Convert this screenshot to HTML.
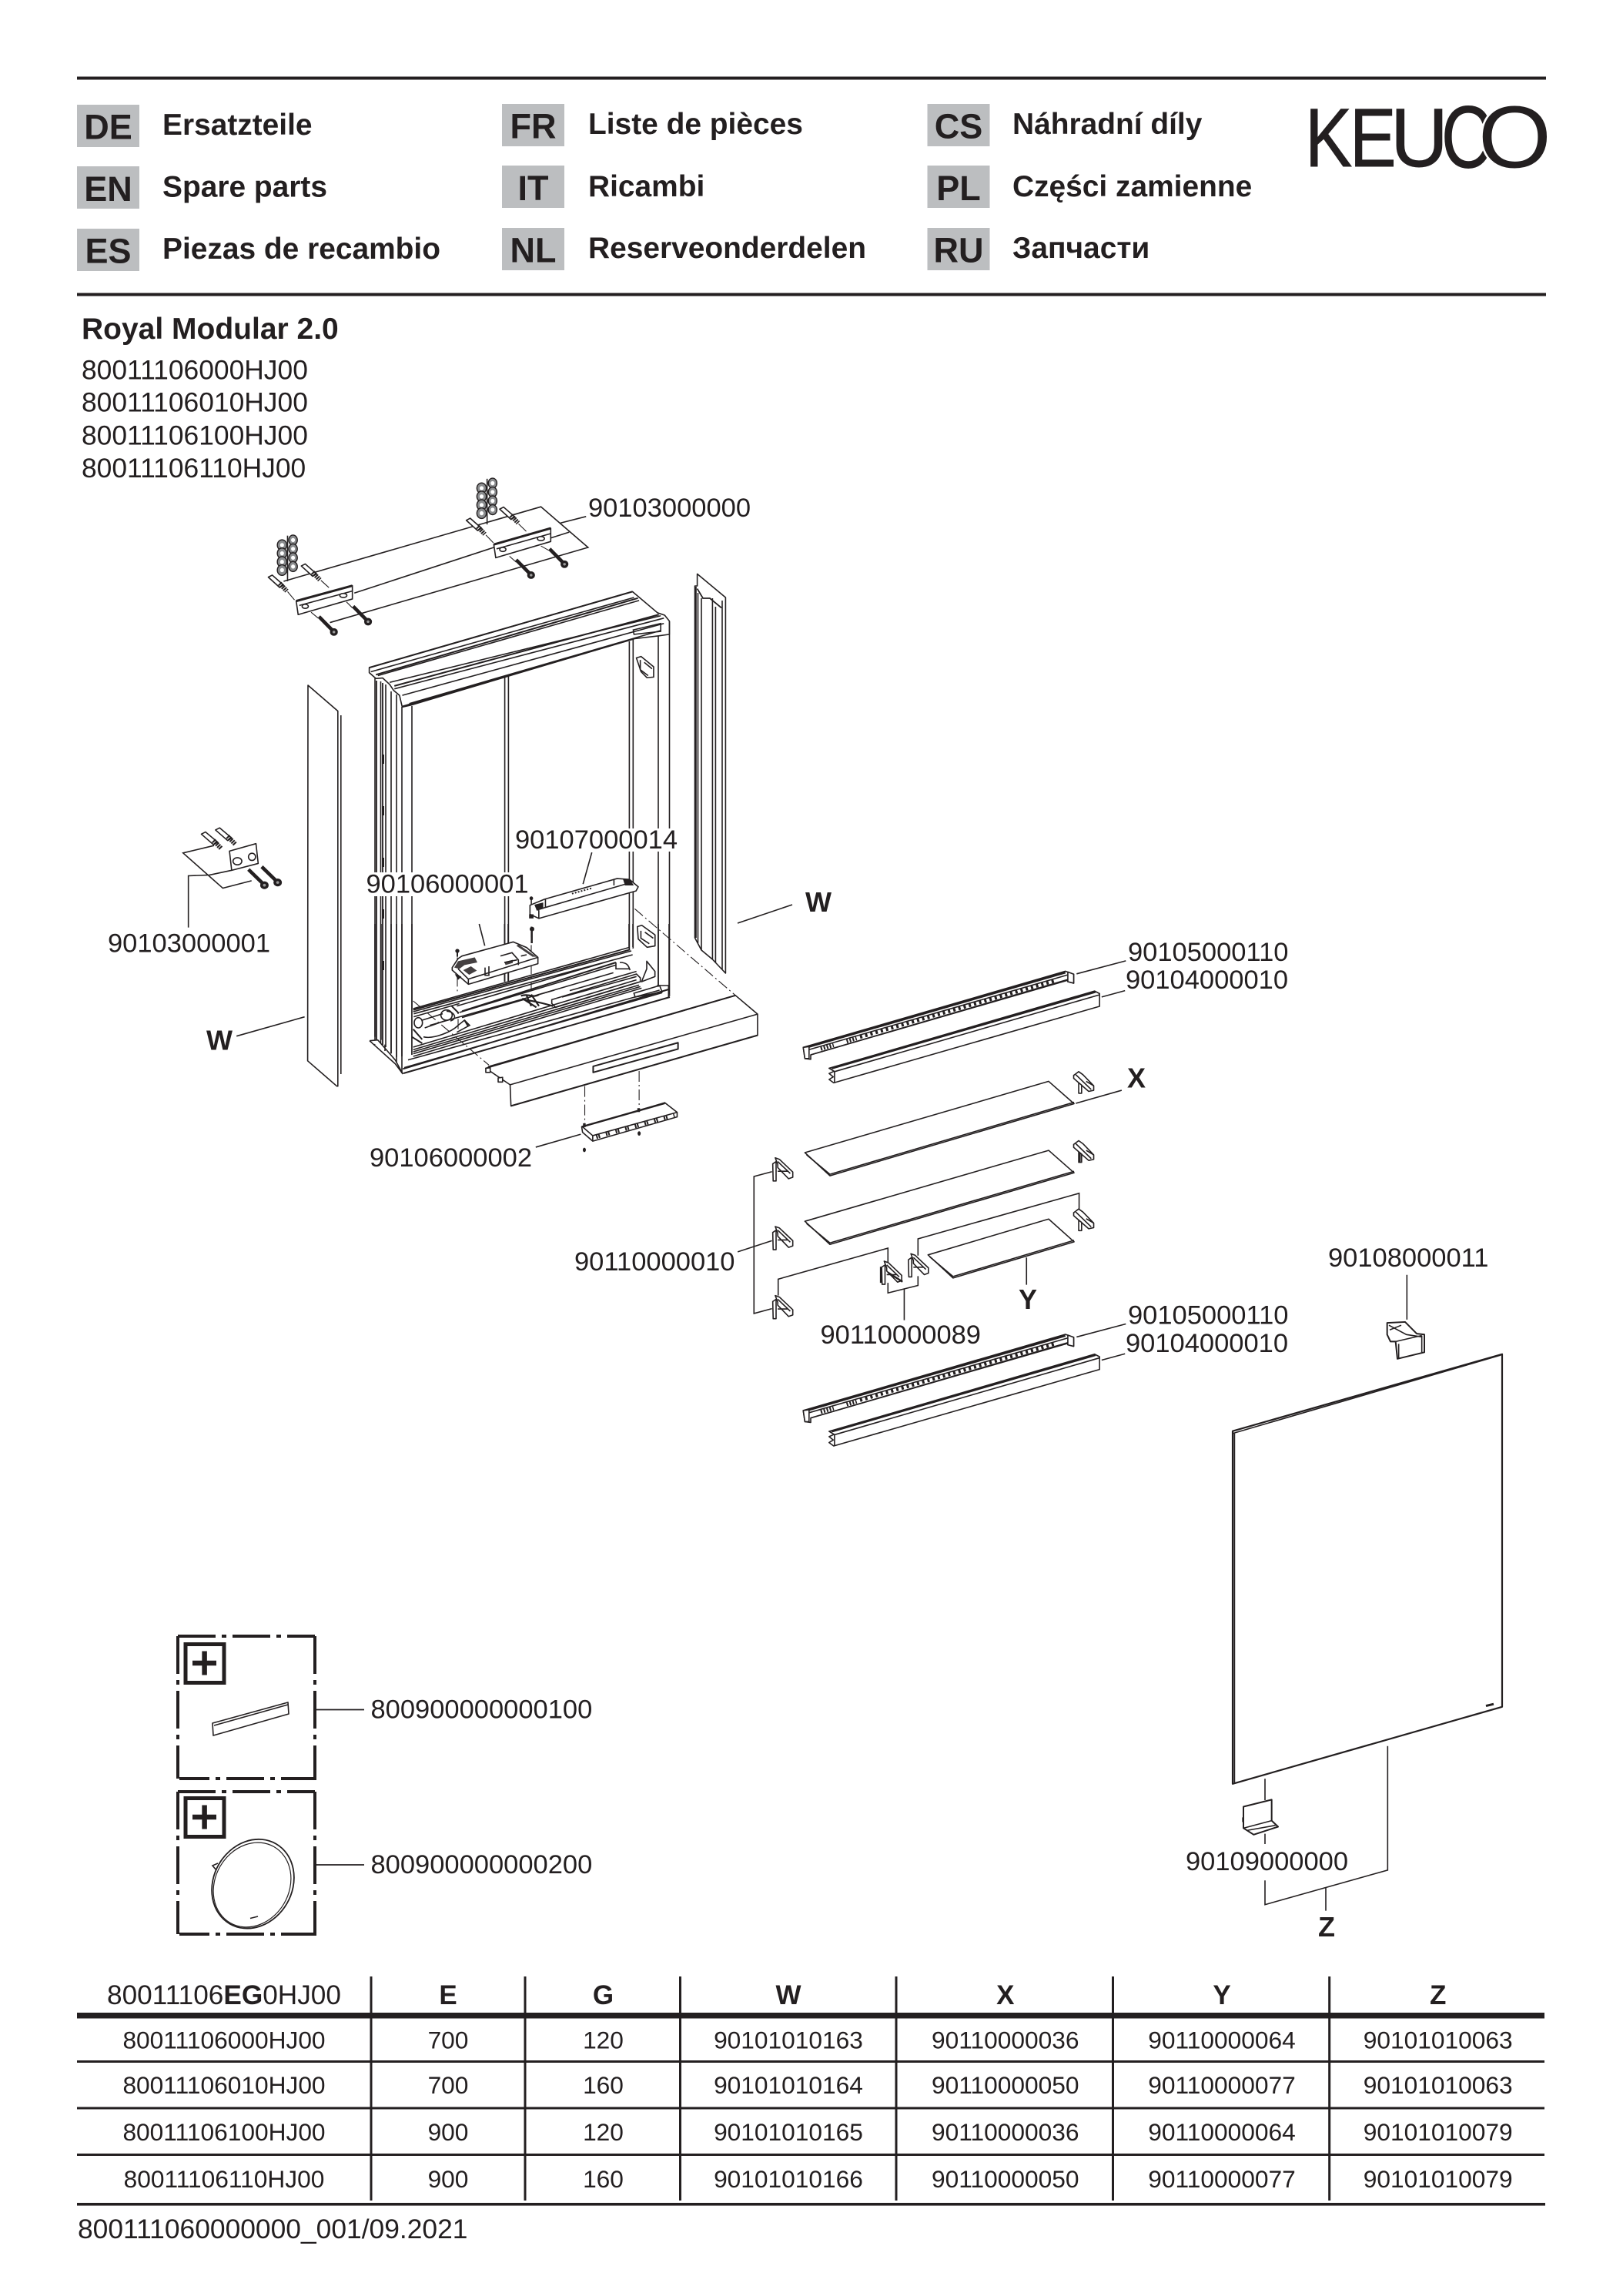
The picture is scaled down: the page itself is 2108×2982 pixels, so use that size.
<!DOCTYPE html>
<html><head><meta charset="utf-8"><title>Royal Modular 2.0</title>
<style>
html,body{margin:0;padding:0;background:#fff}
svg{display:block;position:absolute;left:0;top:0}
text{font-family:"Liberation Sans",sans-serif;fill:#231f20}
.b{font-weight:bold}
.h{font-size:38.9px;font-weight:bold}
.c{font-size:45px;font-weight:bold;text-anchor:middle}
.l{font-size:34.5px}
.p{font-size:35.4px}
.t{font-size:31.7px;text-anchor:middle}
.th{font-size:35px;font-weight:bold;text-anchor:middle}
.m{font-size:36px;font-weight:bold}
.lg{stroke:#231f20;stroke-width:.9px}
.lo{stroke:#fff;stroke-width:5px;paint-order:stroke}
path,line,polygon,rect,ellipse,circle,polyline{vector-effect:non-scaling-stroke}
.ln{fill:none;stroke:#231f20;stroke-width:1.6}
.w{fill:#fff;stroke:#231f20;stroke-width:1.6;stroke-linejoin:round}
.k{fill:#231f20;stroke:none}
.th2{fill:none;stroke:#231f20;stroke-width:3}
.th1{fill:none;stroke:#231f20;stroke-width:1}
.dd{fill:none;stroke:#231f20;stroke-width:1.1;stroke-dasharray:14 4 2 4}
.bx{fill:none;stroke:#231f20;stroke-width:4;stroke-dasharray:49 8 6 8}
</style></head><body>
<svg width="2108" height="2982" viewBox="0 0 2108 2982" xmlns="http://www.w3.org/2000/svg">
<defs>
<g id="bR">
  <path class="w" d="M0,10 L12,0 L22,8 L48,38 V50 L36,53 L0,18Z"/>
  <path class="w" d="M12,30 L19,36 V58 H12Z"/>
  <path class="ln" d="M5,8 L42,48 M30,26 L48,38"/>
</g>
<g id="bL">
  <path class="w" d="M8,0 L18,4 L50,38 V52 L40,56 L14,26 V18Z"/>
  <path class="w" d="M2,16 L10,10 V62 H3Z"/>
  <path class="ln" d="M14,10 L44,42 M14,36 L38,36"/>
</g>
<g id="rail">
  <path class="w" d="M172,372 L800,168 L820,176 V200 L806,196 V190 L190,392 V404 L176,402Z"/>
  <path class="th2" d="M186,370 L800,171"/>
  <path class="ln" d="M186,378 L805,178 M190,392 L806,192"/>
  <path fill="none" stroke="#231f20" stroke-width="5" stroke-dasharray="3 4" d="M308,344 L778,192"/>
  <path fill="none" stroke="#231f20" stroke-width="5" stroke-dasharray="2 2" d="M214,376 L245,366 M276,356 L300,348"/>
  <path class="w" d="M172,372 L186,370 V402 L176,402Z"/>
  <path class="w" d="M806,170 L820,176 V200 L806,196Z"/>
</g>
<g id="prof">
  <path class="w" d="M234,428 L870,221 L882,228 V262 L245,467 L234,458 L244,451 L234,442 L246,436Z"/>
  <path class="th2" d="M240,428 L872,223"/>
  <path class="ln" d="M247,437 L882,231 M247,437 V467"/>
</g>
<g id="anchor">
  <path class="w" d="M-7,3 L3,-4 L32,30 L22,38Z"/>
  <path fill="none" stroke="#231f20" stroke-width="6" stroke-dasharray="2 1" d="M22,24 L40,50"/>
</g>
<g id="screw">
  <path fill="none" stroke="#231f20" stroke-width="4.6" d="M0,0 L34,46"/>
  <ellipse cx="38" cy="52" rx="10" ry="13" fill="#231f20"/>
  <ellipse cx="38" cy="52" rx="3.5" ry="4.5" fill="#999"/>
</g>
<g id="wash">
  <path class="ln" d="M340,250 V405"/>
  <g fill="#8a8c8e" stroke="#231f20" stroke-width="1.4">
    <ellipse cx="326" cy="282" rx="12" ry="18"/><ellipse cx="326" cy="310" rx="12" ry="18"/><ellipse cx="326" cy="339" rx="12" ry="18"/><ellipse cx="326" cy="367" rx="12" ry="18"/>
    <ellipse cx="354" cy="265" rx="11" ry="17"/><ellipse cx="354" cy="295" rx="11" ry="17"/><ellipse cx="354" cy="325" rx="11" ry="17"/><ellipse cx="354" cy="355" rx="11" ry="17"/>
  </g>
  <g fill="#fff" stroke="none">
    <ellipse cx="326" cy="282" rx="5" ry="7"/><ellipse cx="326" cy="310" rx="5" ry="7"/><ellipse cx="326" cy="339" rx="5" ry="7"/><ellipse cx="326" cy="367" rx="5" ry="7"/>
    <ellipse cx="354" cy="265" rx="5" ry="7"/><ellipse cx="354" cy="295" rx="5" ry="7"/><ellipse cx="354" cy="325" rx="5" ry="7"/><ellipse cx="354" cy="355" rx="5" ry="7"/>
  </g>
</g>
</defs>

<!-- header -->
<rect x="100" y="99.5" width="1908" height="4" class="k"/>
<rect x="100" y="380.5" width="1908" height="4" class="k"/>
<g fill="#bcbec0">
<rect x="100" y="136" width="81" height="55"/><rect x="100" y="216" width="81" height="55"/><rect x="100" y="297" width="81" height="55"/>
<rect x="652" y="135" width="81" height="55"/><rect x="652" y="215" width="81" height="55"/><rect x="652" y="296" width="81" height="55"/>
<rect x="1204.5" y="135" width="81" height="55"/><rect x="1204.5" y="215" width="81" height="55"/><rect x="1204.5" y="296" width="81" height="55"/>
</g>
<text class="c" x="140.5" y="180.5">DE</text><text class="c" x="140.5" y="261">EN</text><text class="c" x="140.5" y="341.5">ES</text>
<text class="c" x="692.5" y="179.5">FR</text><text class="c" x="692.5" y="260">IT</text><text class="c" x="692.5" y="340.5">NL</text>
<text class="c" x="1245" y="179.5">CS</text><text class="c" x="1245" y="260">PL</text><text class="c" x="1245" y="340.5">RU</text>
<text class="h" x="211" y="175">Ersatzteile</text><text class="h" x="211" y="255.5">Spare parts</text><text class="h" x="211" y="336">Piezas de recambio</text>
<text class="h" x="764" y="174">Liste de pièces</text><text class="h" x="764" y="255">Ricambi</text><text class="h" x="764" y="335">Reserveonderdelen</text>
<text class="h" x="1315" y="174">Náhradní díly</text><text class="h" x="1315" y="255">Części zamienne</text><text class="h" x="1315" y="335">Запчасти</text>

<!-- logo -->
<text class="lg" style="font-size:108px" transform="translate(1695,216) scale(.85,1)">K</text>
<text class="lg" style="font-size:108px" transform="translate(1753,216) scale(.84,1)">E</text>
<text class="lg" style="font-size:108px" transform="translate(1806,216) scale(.96,1)">U</text>
<text class="lg" style="font-size:114px" transform="translate(1872,217.5) scale(.8,1)">C</text>
<text class="lo" style="font-size:114px" transform="translate(1920,217.5) scale(1.07,1)">O</text>

<text class="b" style="font-size:39px" x="106" y="440">Royal Modular 2.0</text>
<text class="p" x="106" y="492.5">80011106000HJ00</text>
<text class="p" x="106" y="534.5">80011106010HJ00</text>
<text class="p" x="106" y="577.5">80011106100HJ00</text>
<text class="p" x="106" y="620">80011106110HJ00</text>

<!-- continuous verticals and side panels -->
<g>
  <path class="ln" d="M487,881 V1357 M494.5,885 V1357 M501,889 V1360 M508,898 V1368 M515,902 V1379 M522,918 V1394 M535,917 V1378"/>
  <path class="ln" d="M655.6,879 V1275 M660.4,877 V1275"/>
  <path class="ln" d="M817.4,833 V1236 M822.3,830 V1236 M855,826 V1282 M869.5,807 V1294"/>
  <path class="ln" d="M489,884 V1357 M497,887 V1357" style="stroke-width:1.8"/>
  <path fill="none" stroke="#231f20" stroke-width="3" stroke-dasharray="12 55" d="M497.5,980 V1300"/>
  <path class="w" d="M400,890 L438.8,923.5 V1410.7 H437.5 L399.6,1377.8Z"/>
  <path class="ln" d="M442.8,929 V1395"/>
  <path class="w" d="M905.6,745.4 L942.4,776 V1264 L925.4,1246 L911,1234 L902.5,1218 V761 L905.6,761Z"/>
  <path class="ln" d="M906.5,770 V1225 M911,777 V1234 M925.4,777 V1246 M929.4,788 V1250 M938,780 V1259"/>
  <path class="ln" d="M903.8,762 V1218" style="stroke-width:2"/>
  <path class="ln" d="M905.6,764.6 L913,777 H922 L937,789.4" style="stroke-width:1.8"/>
  <path class="ln" d="M958,1199 L1029,1175"/>
</g>

<!-- top part of the exploded view (zoom 2 frame) -->
<g transform="translate(200,600) scale(.5102,.3827)">
  <path class="ln" d="M330,405 L985,152 L1105,290 L448,545"/>
  <path class="ln" d="M510,445 L865,290 M1010,258 L1057,238 M1035,207 L1100,185"/>
  <use href="#wash"/><use href="#wash" transform="translate(508,-193)"/>
  <path class="dd" d="M340,440 L362,475 M425,402 L450,432 M400,510 L418,530 M490,475 L505,495 M845,248 L868,280 M928,210 L955,245 M905,320 L922,340 M985,285 L1005,300"/>
  <use href="#anchor" transform="translate(298,388)"/><use href="#anchor" transform="translate(382,350)"/>
  <use href="#anchor" transform="translate(802,195)"/><use href="#anchor" transform="translate(887,157)"/>
  <path class="w" d="M362,472 L505,420 V465 L367,518Z"/>
  <path class="w" d="M865,280 L1010,225 V270 L870,325Z"/>
  <path class="th2" d="M362,472 L505,420 M865,280 L1010,225"/>
  <path class="ln" d="M370,487 L505,438 M872,295 L1010,243"/>
  <ellipse class="w" cx="385" cy="490" rx="8" ry="7"/><ellipse class="w" cx="482" cy="453" rx="9" ry="7"/>
  <ellipse class="w" cx="888" cy="297" rx="8" ry="7"/><ellipse class="w" cx="985" cy="260" rx="9" ry="7"/>
  <use href="#screw" transform="translate(420,525)"/><use href="#screw" transform="translate(507,490)"/>
  <use href="#screw" transform="translate(922,332)"/><use href="#screw" transform="translate(1007,295)"/>

  <!-- cabinet top -->
  <path class="w" d="M548,698 L1218,440 L1282,512 L1300,520 L1312,540 L1312,585 L1285,590 L1222,600 L655,825 L632,832 L625,792 L610,775 L600,755 L582,733 L565,735 L548,715Z"/>
  <path class="ln" d="M552,712 L1222,460 M570,725 L1235,470 M600,748 L1290,522 M612,770 L1298,530 M632,792 L1298,548 M650,820 L1290,572"/>
  <path class="th2" d="M548,698 L1218,440 M565,722 L1232,462 M632,830 L1222,600 M612,760 L1285,518" style="stroke-width:2"/>
  <path class="ln" d="M1220,570 L1290,548 V575 L1222,585Z"/>
  <path class="w" d="M1228,665 L1240,660 L1272,695 V730 L1255,732 L1240,712 Z"/>
  <path class="ln" d="M1238,672 L1238,705 L1258,725 M1248,680 L1268,702"/>
</g>

<!-- small bracket, hinge (zoom 3 frame) -->
<g transform="translate(100,1000) scale(.574,.3571)">
  <path class="ln" d="M310,275 L240,302 L330,430 L395,403 M350,365 L300,382 L252,385 V573"/>
  <use href="#anchor" transform="translate(288,230) scale(.95,1.1)"/><use href="#anchor" transform="translate(320,215) scale(.95,1.1)"/>
  <path class="w" d="M345,295 L405,268 L410,340 L350,365Z"/>
  <ellipse class="w" cx="363" cy="332" rx="10" ry="13"/><ellipse class="w" cx="396" cy="316" rx="8" ry="13"/>
  <use href="#screw" transform="translate(388,362) scale(.95,1.1)"/><use href="#screw" transform="translate(418,352) scale(.95,1.1)"/>
  <path class="ln" d="M361,968 L515,898"/>
  <path class="w" d="M1268,570 L1278,565 L1308,600 V640 L1290,645 L1270,615Z"/>
  <path class="ln" d="M1276,585 V612 L1295,632 M1285,590 L1304,612"/>
</g>

<!-- tray (zoom 10 frame) -->
<g transform="translate(480,1200) scale(.33333)">
  <path class="w" d="M0,455 L30,450 L95,525 L130,580 L1170,285 L1165,240 L1120,242 L1030,95 L165,330 V510 L100,520Z" style="stroke:none"/>
  <path class="ln" d="M21,0 V440 M45,0 V452 M84,0 V505 M105,0 V540 M126,0 V580 M165,0 V510"/>
  <path class="ln" d="M1011,0 V95 M1026,0 V90 M1125,0 V245 M1167,0 V282"/>
  <path class="ln" d="M526,0 V225 M540,0 V222"/>
  <path class="ln" d="M0,455 L32,452 L100,530 L130,585 M0,455 L100,545 L130,585 M60,470 V495"/>
  <path class="th2" d="M130,565 L1165,255 M132,582 L1170,285" style="stroke-width:2"/>
  <path class="ln" d="M170,330 L1010,92 M170,342 L1020,105 M172,350 L1025,120 M172,362 L350,310 M340,320 L950,140 M350,345 L960,160 M235,395 L720,258 M360,365 L600,295"/>
  <path class="th2" d="M170,335 L1015,100 M360,340 L960,150" style="stroke-width:2"/>
  <path class="ln" d="M170,480 L1040,218 M170,490 L1045,228 M170,498 L1050,238 M170,506 L1055,244 M170,516 L1060,250 M150,530 L1130,258 M135,560 L1140,268"/>
  <path class="ln" d="M710,295 L1040,195 L1055,210 V225 L725,325 L710,310Z M750,285 L1040,205 M660,275 L950,190 M780,260 L1040,185"/>
  <path class="ln" d="M960,150 V175 L1015,175 M975,150 C1010,150 1010,170 1015,180"/>
  <path class="th2" d="M590,280 C620,270 640,290 660,275 M595,290 L650,325 M610,275 L630,320 M630,275 L660,320 M600,295 C640,300 680,310 715,320" style="stroke-width:2.2"/>
  <ellipse class="w" cx="190" cy="385" rx="16" ry="20"/><ellipse class="ln" cx="300" cy="355" rx="22" ry="20"/>
  <path class="ln" d="M205,375 L285,350 M215,405 L300,375 M300,340 C330,340 345,370 315,378 M210,440 C250,450 320,420 345,395 L370,375 L390,395 L340,422"/>
  <path class="th2" d="M170,410 L205,450 M165,440 L205,465 M320,320 L345,345 V350 M370,375 L385,400" style="stroke-width:2"/>
  <path class="w" d="M1080,145 L1112,185 L1112,205 L1060,225 L1080,175Z"/>
  <path class="ln" d="M1120,240 L1165,240 V285 M1030,270 L1130,240 L1140,265 L1035,285Z"/>
  <path class="dd" d="M170,300 L465,550 M630,10 V260 M342,130 V270 M345,370 V410"/>
  <path class="ln" d="M427,0 L449,85"/>
  <path class="w" d="M322,170 L345,135 L360,125 L560,70 L612,92 L656,130 L656,155 L385,235 L322,180Z"/>
  <path class="ln" d="M345,175 L385,215 V235 M385,215 L656,130 M510,125 L555,112 L580,140 V160 M525,150 L575,140 M450,170 V200 H465 V165 M590,125 L612,120"/>
  <path class="k" d="M365,180 L395,165 L418,182 L388,198Z M525,148 L558,140 V152 L530,160Z M580,80 L650,128 L635,128 L572,85Z M345,145 L410,130 L420,150 L370,160 L350,175 L330,170Z" style="opacity:.85"/>
  <path class="k" d="M332,195 L358,205 L345,218Z"/>
  <circle cx="342" cy="105" r="8" fill="#231f20"/><path class="th2" d="M342,110 V128" style="stroke-width:2"/>
  <circle cx="633" cy="20" r="9" fill="#231f20"/><path class="th2" d="M632,28 V75" style="stroke-width:2.5"/>
</g>

<g transform="translate(100,1000) scale(.574,.3571)">
  <path class="ln" d="M1165,300 L1145,415"/>
  <path class="w" d="M1025,492 L1058,470 L1222,395 L1250,398 L1270,425 L1265,440 L1045,540 L1025,525Z"/>
  <path class="ln" d="M1060,470 V500 L1040,510 M1060,500 L1248,412 M1045,510 V540 M1215,400 V420"/>
  <path class="k" d="M1035,490 L1055,482 V505 L1040,510Z M1235,395 L1252,400 L1260,420 L1240,420Z"/>
  <path fill="none" stroke="#231f20" stroke-width="2" stroke-dasharray="2 2" d="M1120,450 L1165,430"/>
  <path class="k" d="M1023,525 L1033,525 L1033,540 L1023,540Z"/>
  <ellipse cx="1028" cy="467" rx="4" ry="7" fill="#231f20"/><path class="ln" d="M1028,472 V490"/>
  <path class="dd" d="M1262,505 L1490,820"/>
  <path class="w" d="M925,1085 L1490,820 L1540,888 V965 L982,1222 L980,1145Z"/>
  <path class="ln" d="M980,1145 L1540,888"/>
  <path class="th2" d="M930,1080 L1490,820 M982,1222 L1540,965" style="stroke-width:2"/>
  <path class="w" d="M1168,1078 L1360,992 V1015 L1168,1100Z" style="stroke-width:2"/>
  <path class="w" d="M925,1085 L935,1083 V1100 L925,1100Z M953,1120 L963,1118 V1135 L953,1135Z"/>
  <path class="dd" d="M1149,1150 V1290 M1272,1095 V1225"/>
  <path class="ln" d="M1038,1372 L1140,1325"/>
  <path class="w" d="M1142,1298 L1272,1238 L1300,1225 L1330,1210 L1358,1245 V1262 L1167,1350 L1144,1318Z"/>
  <path class="ln" d="M1144,1298 L1167,1330 V1350 M1167,1330 L1358,1245"/>
  <path class="th2" d="M1142,1298 L1330,1212" style="stroke-width:2.4"/>
  <path fill="none" stroke="#231f20" stroke-width="5" stroke-dasharray="2 1 2 8" d="M1175,1335 L1352,1256"/>
  <path class="k" d="M1268,1230 h6 v14 h-6z M1145,1285 h6 v14 h-6z"/>
  <ellipse cx="1272" cy="1322" rx="3.5" ry="8" fill="#231f20"/><ellipse cx="1148" cy="1382" rx="3.5" ry="8" fill="#231f20"/>
</g>

<!-- shelves, rails (zoom 4 frame) -->
<g transform="translate(950,1180) scale(.5421,.4847)">
  <use href="#rail"/><use href="#prof"/>
  <use href="#rail" y="973"/><use href="#prof" y="973"/>
  <path class="ln" d="M827,175 L945,140 M887,237 L943,220 M827,1148 L945,1113 M887,1210 L943,1193"/>
  <path class="w" d="M176,654 L760,463 L821,523 L236,716Z"/><path class="ln" d="M180,660 L236,712 L821,519"/>
  <path class="w" d="M176,838 L760,648 L821,708 L236,900Z"/><path class="ln" d="M180,844 L236,896 L821,704"/>
  <path class="w" d="M471,928 L760,832 L821,893 L531,990Z"/><path class="ln" d="M475,933 L531,986 L821,889"/>
  <path class="ln" d="M825,522 L935,487 M707,935 V1008"/>
  <use href="#bR" x="820" y="437"/><use href="#bR" x="820" y="622"/><use href="#bR" x="820" y="805"/>
  <path class="th2" d="M835,655 V680" style="stroke-width:2"/>
  <path class="ln" d="M97,705 L54,718 V1085 L97,1072 M15,920 L97,890"/>
  <path class="ln" d="M112,1037 V993 L375,910 V950 M375,1003 V1030 L447,1010 V985 M414,1020 V1103 M447,930 V885 L833,763 V807"/>
  <use href="#bL" x="97" y="668"/><use href="#bL" x="97" y="852"/><use href="#bL" x="97" y="1037"/>
  <use href="#bL" x="358" y="945" /><path class="th2" d="M358,960 V1003 M375,975 L410,1000" style="stroke-width:2.4"/>
  <use href="#bL" x="422" y="925"/>
</g>

<!-- mirror (zoom 5 frame) -->
<g transform="translate(1500,1600) scale(.33333,.6059)">
  <path class="w" d="M303,427 L1353,262 V1018 L303,1183Z" style="stroke-width:2.2"/>
  <path class="ln" d="M310,432 V1180" style="stroke-width:1.8"/>
  <path class="ln" d="M303,432 L1348,264" style="stroke-width:1.6"/>
  <path class="th2" d="M1290,1016 L1320,1012"/>
  <path class="ln" d="M982,92 V188 M429,1172 V1218 M429,1290 V1312 M429,1390 V1442 L907,1368 V1102 M666,1405 V1455"/>
  <path class="w" d="M905,195 L975,193 L1020,218 L1050,220 V258 L945,272 L938,235 L918,235 L905,220Z" style="stroke-width:2"/>
  <path class="ln" d="M912,200 L980,220 L1040,225 M938,235 L1040,222 M1040,222 V258 M950,240 V270 M915,210 L960,200"/>
  <path class="w" d="M345,1232 L455,1217 V1262 L480,1275 L385,1292 L345,1278Z" style="stroke-width:2"/>
  <path class="ln" d="M345,1278 L455,1262 M358,1283 L470,1272"/>
  <path class="k" d="M340,1255 h5 v10 h-5z"/>
</g>

<!-- accessory boxes -->
<g>
  <path class="bx" d="M231,2125 H409"/><path class="bx" d="M231,2125 V2310"/><path class="bx" d="M409,2125 V2310"/><path class="bx" stroke-dashoffset="10" d="M233,2310 H411"/>
  <path class="bx" d="M231,2327 H409"/><path class="bx" d="M231,2327 V2512"/><path class="bx" d="M409,2327 V2512"/><path class="bx" stroke-dashoffset="10" d="M233,2512 H411"/>
  <rect x="241" y="2135.5" width="50" height="50" fill="none" stroke="#231f20" stroke-width="5"/>
  <rect x="241" y="2335.5" width="50" height="50" fill="none" stroke="#231f20" stroke-width="5"/>
  <path fill="none" stroke="#231f20" stroke-width="6.5" d="M250,2160 H281 M265.6,2144.5 V2175.5 M250,2360 H281 M265.6,2344.5 V2375.5"/>
  <path class="w" d="M276,2238 L374,2211 L375,2226 L277,2254Z"/>
  <path class="ln" d="M278,2241 L374,2214"/>
  <path class="ln" d="M409,2220.5 H473 M409,2422 H473" style="stroke-width:1.8"/>
  <path class="ln" d="M283,2420 L276,2423 L282,2430"/>
  <ellipse cx="328.5" cy="2446.7" rx="51" ry="60" fill="#fff" stroke="#231f20" stroke-width="1.8" transform="rotate(30 328.5 2446.7)"/>
  <ellipse cx="327.5" cy="2448" rx="48" ry="57" fill="none" stroke="#231f20" stroke-width="1.2" transform="rotate(30 327.5 2448)"/>
  <path class="th2" d="M325,2491.5 L335,2489" style="stroke-width:1.6"/>
</g>

<!-- label knock-outs -->
<rect x="667" y="1076" width="214" height="30" fill="#fff"/>
<rect x="473" y="1133" width="215" height="31" fill="#fff"/>

<!-- labels -->
<text class="l" x="764" y="671">90103000000</text>
<text class="l" x="669" y="1102">90107000014</text>
<text class="l" x="475.5" y="1159.5">90106000001</text>
<text class="l" x="140" y="1236.5">90103000001</text>
<text class="l" x="480" y="1515">90106000002</text>
<text class="l" x="1465" y="1248">90105000110</text>
<text class="l" x="1462" y="1284">90104000010</text>
<text class="l" x="746" y="1650">90110000010</text>
<text class="l" x="1065.5" y="1745">90110000089</text>
<text class="l" x="1465" y="1719.5">90105000110</text>
<text class="l" x="1462" y="1756">90104000010</text>
<text class="l" x="1725" y="1645">90108000011</text>
<text class="l" x="1540" y="2429">90109000000</text>
<text class="l" x="481.5" y="2231.5">800900000000100</text>
<text class="l" x="481.5" y="2433">800900000000200</text>
<text class="m" x="268" y="1363.5">W</text>
<text class="m" x="1046" y="1184">W</text>
<text class="m" x="1464" y="1412.5">X</text>
<text class="m" x="1323" y="1700">Y</text>
<text class="m" x="1712" y="2515">Z</text>

<!-- table -->
<rect x="100" y="2614" width="1906" height="7.5" class="k"/>
<rect x="100" y="2676" width="1906" height="3" class="k"/>
<rect x="100" y="2736.5" width="1906" height="3" class="k"/>
<rect x="100" y="2797" width="1906" height="3" class="k"/>
<rect x="100" y="2861" width="1907" height="3.6" class="k"/>
<g class="k">
<rect x="480.5" y="2567" width="3" height="291"/><rect x="680.5" y="2567" width="3" height="291"/><rect x="882" y="2567" width="3" height="291"/>
<rect x="1162.5" y="2567" width="3" height="291"/><rect x="1444" y="2567" width="3" height="291"/><rect x="1725.2" y="2567" width="3" height="291"/>
</g>
<text x="291" y="2603" style="font-size:35.2px;text-anchor:middle">80011106<tspan class="b">EG</tspan>0HJ00</text>
<text class="th" x="582" y="2603">E</text><text class="th" x="783.5" y="2603">G</text><text class="th" x="1024" y="2603">W</text><text class="th" x="1305.8" y="2603">X</text><text class="th" x="1587" y="2603">Y</text><text class="th" x="1867.7" y="2603">Z</text>

<g>
<text class="t" x="291" y="2660.5">80011106000HJ00</text><text class="t" x="582" y="2660.5">700</text><text class="t" x="783.5" y="2660.5">120</text><text class="t" x="1024" y="2660.5">90101010163</text><text class="t" x="1305.8" y="2660.5">90110000036</text><text class="t" x="1587" y="2660.5">90110000064</text><text class="t" x="1867.7" y="2660.5">90101010063</text>
<text class="t" x="291" y="2719">80011106010HJ00</text><text class="t" x="582" y="2719">700</text><text class="t" x="783.5" y="2719">160</text><text class="t" x="1024" y="2719">90101010164</text><text class="t" x="1305.8" y="2719">90110000050</text><text class="t" x="1587" y="2719">90110000077</text><text class="t" x="1867.7" y="2719">90101010063</text>
<text class="t" x="291" y="2780">80011106100HJ00</text><text class="t" x="582" y="2780">900</text><text class="t" x="783.5" y="2780">120</text><text class="t" x="1024" y="2780">90101010165</text><text class="t" x="1305.8" y="2780">90110000036</text><text class="t" x="1587" y="2780">90110000064</text><text class="t" x="1867.7" y="2780">90101010079</text>
<text class="t" x="291" y="2841">80011106110HJ00</text><text class="t" x="582" y="2841">900</text><text class="t" x="783.5" y="2841">160</text><text class="t" x="1024" y="2841">90101010166</text><text class="t" x="1305.8" y="2841">90110000050</text><text class="t" x="1587" y="2841">90110000077</text><text class="t" x="1867.7" y="2841">90101010079</text>
</g>
<text x="101" y="2907" style="font-size:35.4px">800111060000000_001/09.2021</text>
</svg>
</body></html>
